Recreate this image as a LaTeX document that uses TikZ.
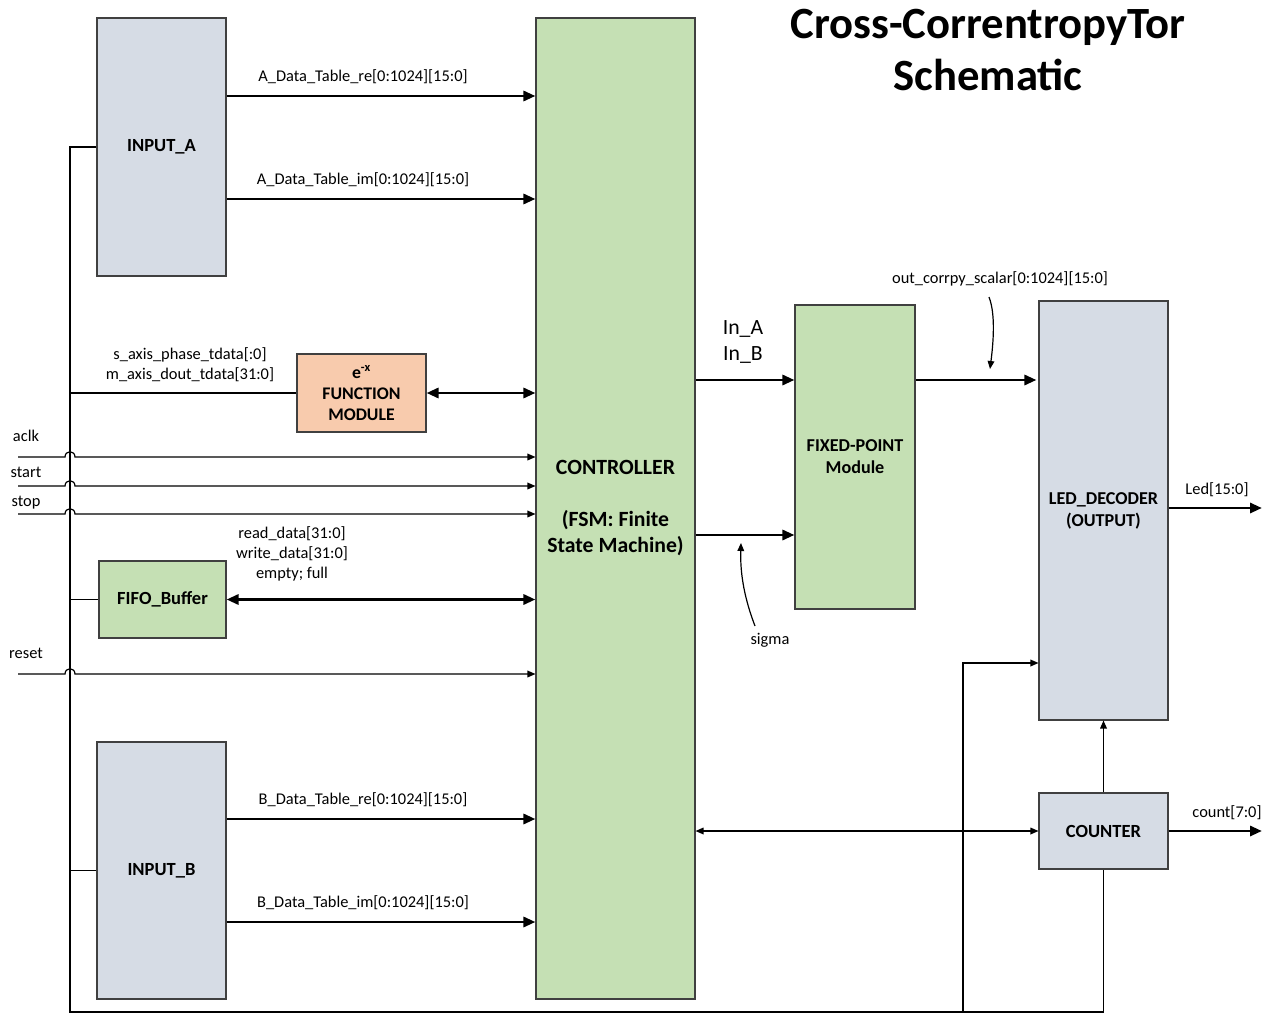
\documentclass[tikz,border=0pt]{standalone}
\usepackage{fontspec}
\setmainfont{Carlito}
\usetikzlibrary{arrows.meta}

\definecolor{blockblue}{RGB}{214,220,229}
\definecolor{blockgreen}{RGB}{197,224,180}
\definecolor{blockpeach}{RGB}{248,203,173}

\tikzset{
  blk/.style={draw=black!75, line width=0.8pt, inner sep=0pt, align=center,
    font=\fontsize{13.9}{16.5}\selectfont\bfseries},
  bluebox/.style={blk, fill=blockblue},
  greenbox/.style={blk, fill=blockgreen},
  peachbox/.style={blk, fill=blockpeach},
  lbl/.style={inner sep=0pt, font=\fontsize{12.3}{14.8}\selectfont, align=center},
  bus/.style={line width=2.2pt, >={Triangle[length=9pt,width=7.5pt]}},
  sig/.style={line width=0.9pt, >={Triangle[length=6pt,width=5pt]}}
}

\begin{document}
\begin{tikzpicture}[x=0.75pt,y=-0.75pt]
  \useasboundingbox (0,0) rectangle (1264,1013);

  % title
  \path (988,50) node[align=center, font=\fontsize{33.5}{38.5}\selectfont\bfseries] (title) {Cross-CorrentropyTor\\Schematic};

  % blocks
  \path (161.5,147) node[bluebox, minimum width=96.75pt, minimum height=193.5pt] (inA) {INPUT\_A}
        (161.5,870.5) node[bluebox, minimum width=96.75pt, minimum height=192.75pt] (inB) {INPUT\_B}
        (615.5,508.5) node[greenbox, minimum width=119.25pt, minimum height=735.75pt,
            font=\fontsize{16.3}{19.5}\selectfont\bfseries] (ctrl) {CONTROLLER\\[19.5pt](FSM: Finite\\State Machine)}
        (361.5,393) node[peachbox, minimum width=96.75pt, minimum height=58.5pt,
            font=\fontsize{13.3}{15.5}\selectfont\bfseries] (expfn) {e\textsuperscript{-x}\\FUNCTION\\MODULE}
        (162.5,599.5) node[greenbox, minimum width=95.25pt, minimum height=57.75pt] (fifo) {FIFO\_Buffer}
        (855,457) node[greenbox, minimum width=90pt, minimum height=228pt,
            font=\fontsize{13.6}{16.5}\selectfont\bfseries] (fixed) {FIXED-POINT\\Module}
        (1103.5,510.5) node[bluebox, minimum width=96.75pt, minimum height=314.25pt,
            font=\fontsize{13.6}{16.5}\selectfont\bfseries] (led) {LED\_DECODER\\(OUTPUT)}
        (1103.5,831) node[bluebox, minimum width=96.75pt, minimum height=57pt] (counter) {COUNTER};

  % data tables into the controller
  \draw[bus,->] (inA.east |- 0,96) -- node[lbl, above=8pt, xshift=-13.5pt] (lblAre) {A\_Data\_Table\_re[0:1024][15:0]} (ctrl.west |- 0,96);
  \draw[bus,->] (inA.east |- 0,199) -- node[lbl, above=8pt, xshift=-13.5pt] (lblAim) {A\_Data\_Table\_im[0:1024][15:0]} (ctrl.west |- 0,199);
  \draw[bus,->] (inB.east |- 0,819) -- node[lbl, above=8pt, xshift=-13.5pt] (lblBre) {B\_Data\_Table\_re[0:1024][15:0]} (ctrl.west |- 0,819);
  \draw[bus,->] (inB.east |- 0,922) -- node[lbl, above=8pt, xshift=-13.5pt] (lblBim) {B\_Data\_Table\_im[0:1024][15:0]} (ctrl.west |- 0,922);

  % helper blocks
  \draw[bus,<->] (expfn.east) -- (ctrl.west |- expfn.east);
  \draw[bus,<->] (fifo.east) -- (ctrl.west |- fifo.east);
  \path (292,554) node[lbl] (lblfifo) {read\_data[31:0]\\write\_data[31:0]\\empty; full};
  \path (190,365) node[lbl, font=\fontsize{12.3}{15}\selectfont] (lblexp) {s\_axis\_phase\_tdata[:0]\\m\_axis\_dout\_tdata[31:0]};

  % shared line on the left
  \coordinate (busL) at (70,1012);
  \coordinate (tapE) at (70,393);
  \coordinate (tapF) at (70,599.5);
  \coordinate (tapB) at (70,870.5);
  \coordinate (tapL) at (963,1012);
  \draw[sig] (inA.west) -| (busL) -| (counter.south);
  \draw[sig] (tapE) -- (expfn.west);
  \draw[sig] (tapF) -- (fifo.west);
  \draw[sig] (tapB) -- (inB.west);
  \draw[sig,->] (tapL) |- (led.west |- 0,663);

  % control inputs, hopping over the shared line
  \foreach \sname/\yy/\ly in {aclk/457/436,start/486/472,stop/514/503,reset/674/653}{
    \coordinate (in-\sname) at (18,\yy);
    \path (26,\ly) node[lbl] (lbl-\sname) {\sname};
    \draw[sig,->] (in-\sname) -- (65,\yy) .. controls (65,\yy-7) and (75,\yy-7) .. (75,\yy) -- (ctrl.west |- 0,\yy);
  }

  % controller to fixed-point and decoder
  \draw[bus,->] (ctrl.east |- 0,380) -- (fixed.west |- 0,380);
  \draw[bus,->] (ctrl.east |- 0,535) -- (fixed.west |- 0,535);
  \draw[bus,->] (fixed.east |- 0,380) -- ([xshift=-1.5pt]led.west |- 0,380);
  \path (743,342) node[lbl, font=\fontsize{16.3}{19.5}\selectfont] (lblin) {In\_A\\In\_B};

  \path (770,640) node[lbl] (lblsig) {sigma};
  \coordinate (sigtip) at (741,543);
  \draw[sig,->] (755,626) .. controls (745,600) and (740,575) .. (sigtip);

  \path (1000,279) node[lbl] (lblout) {out\_corrpy\_scalar[0:1024][15:0]};
  \coordinate (outtip) at (990,369);
  \draw[sig,->] (989,297) .. controls (996,315) and (993,345) .. (outtip);

  % counter
  \draw[sig,<->] (ctrl.east |- counter.west) -- (counter.west);
  \draw[sig,->] (counter.north) -- (led.south);

  % outputs
  \coordinate (ledout) at (1262,508);
  \coordinate (cntout) at (1262,831);
  \draw[bus,->] (led.east |- ledout) -- (ledout);
  \draw[bus,->] (counter.east) -- (cntout);
  \path (1217,490) node[lbl] (lblled) {Led[15:0]};
  \path (1227,813) node[lbl] (lblcnt) {count[7:0]};
\end{tikzpicture}
\end{document}
